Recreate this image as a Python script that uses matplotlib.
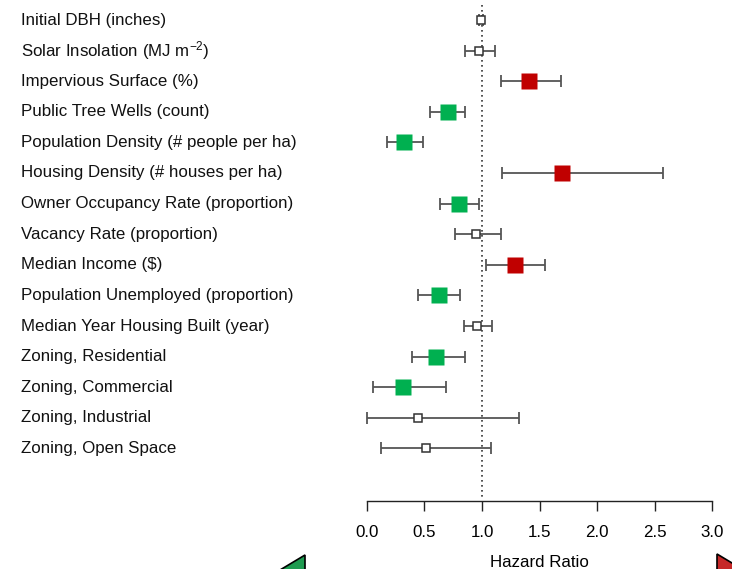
import matplotlib
matplotlib.use("Agg")
import matplotlib.pyplot as plt
import matplotlib.transforms as mtransforms
from matplotlib.patches import Polygon

plt.rcParams['font.family'] = ['Liberation Sans', 'DejaVu Sans']
plt.rcParams['mathtext.fontset'] = 'custom'
plt.rcParams['mathtext.rm'] = 'Liberation Sans'
plt.rcParams['mathtext.default'] = 'regular'

labels = [
    "Initial DBH (inches)",
    "Solar Insolation (MJ m$^{-2}$)",
    "Impervious Surface (%)",
    "Public Tree Wells (count)",
    "Population Density (# people per ha)",
    "Housing Density (# houses per ha)",
    "Owner Occupancy Rate (proportion)",
    "Vacancy Rate (proportion)",
    "Median Income ($)",
    "Population Unemployed (proportion)",
    "Median Year Housing Built (year)",
    "Zoning, Residential",
    "Zoning, Commercial",
    "Zoning, Industrial",
    "Zoning, Open Space",
]
hr    = [0.99, 0.977, 1.41, 0.704, 0.322, 1.696, 0.80, 0.945, 1.287, 0.626, 0.959, 0.60, 0.313, 0.443, 0.51]
lower = [0.975, 0.855, 1.162, 0.548, 0.177, 1.174, 0.635, 0.762, 1.038, 0.441, 0.841, 0.394, 0.055, 0.0, 0.125]
upper = [1.005, 1.113, 1.684, 0.849, 0.487, 2.577, 0.977, 1.168, 1.551, 0.806, 1.09, 0.849, 0.684, 1.319, 1.081]
effect = ["ns", "ns", "up", "down", "down", "up", "down", "ns", "up", "down", "ns", "down", "down", "ns", "ns"]
xticks = [0.0, 0.5, 1.0, 1.5, 2.0, 2.5, 3.0]

RED = "#C00000"
GREEN = "#00B050"
FS = 12.2

W, H = 732, 569
fig = plt.figure(figsize=(W / 100, H / 100), dpi=100)
ax = fig.add_axes([367 / W, 1 - 497 / H, 345 / W, 497 / H])

row_px0, row_step = 20.0, 30.6
ax.set_xlim(0, 3)
ax.set_ylim((497 - row_px0) / row_step, -row_px0 / row_step)

for s in ['top', 'right', 'left']:
    ax.spines[s].set_visible(False)
ax.spines['bottom'].set_position(('outward', 3))
ax.spines['bottom'].set_linewidth(1.0)
ax.spines['bottom'].set_color('#222222')
ax.set_yticks([])
ax.set_xticks(xticks)
ax.set_xticklabels([f"{t:.1f}" for t in xticks], fontsize=FS)
ax.tick_params(axis='x', direction='out', length=7, width=1.0, color='#222222', pad=10)
ax.set_xlabel("Hazard Ratio", fontsize=FS, labelpad=11)

# reference line
ax.plot([1, 1], [-0.5, (497 - row_px0) / row_step], color='#333333', lw=1.2,
        linestyle=(0, (1, 2)), clip_on=False)

for i, (h, lo, up, e) in enumerate(zip(hr, lower, upper, effect)):
    ax.errorbar(h, i, xerr=[[h - lo], [up - h]], fmt='none', ecolor='#555555',
                elinewidth=1.3, capsize=4, capthick=1.3, clip_on=False, zorder=2)
    if e == "ns":
        ax.plot(h, i, marker='s', ms=6, mfc='white', mec='#333333', mew=1.1,
                clip_on=False, zorder=3)
    else:
        ax.plot(h, i, marker='s', ms=11.5, mfc=RED if e == "up" else GREEN,
                mec='none', clip_on=False, zorder=3)

trans = mtransforms.blended_transform_factory(fig.transFigure, ax.transData)
for i, lab in enumerate(labels):
    ax.text(21 / W, i, lab, transform=trans, ha='left', va='center', fontsize=FS,
            color='#111111')

def fp(x, y):
    return (x / W, 1 - y / H)

green_tri = Polygon([fp(270, 576), fp(305, 555), fp(305, 576)], closed=True,
                    facecolor="#1E9B50", edgecolor='black', lw=1.2,
                    transform=fig.transFigure, clip_on=False)
red_tri = Polygon([fp(717, 554), fp(752, 575), fp(717, 575)], closed=True,
                  facecolor="#C62828", edgecolor='black', lw=1.2,
                  transform=fig.transFigure, clip_on=False)
fig.patches.extend([green_tri, red_tri])

fig.savefig("out.png", dpi=100)
